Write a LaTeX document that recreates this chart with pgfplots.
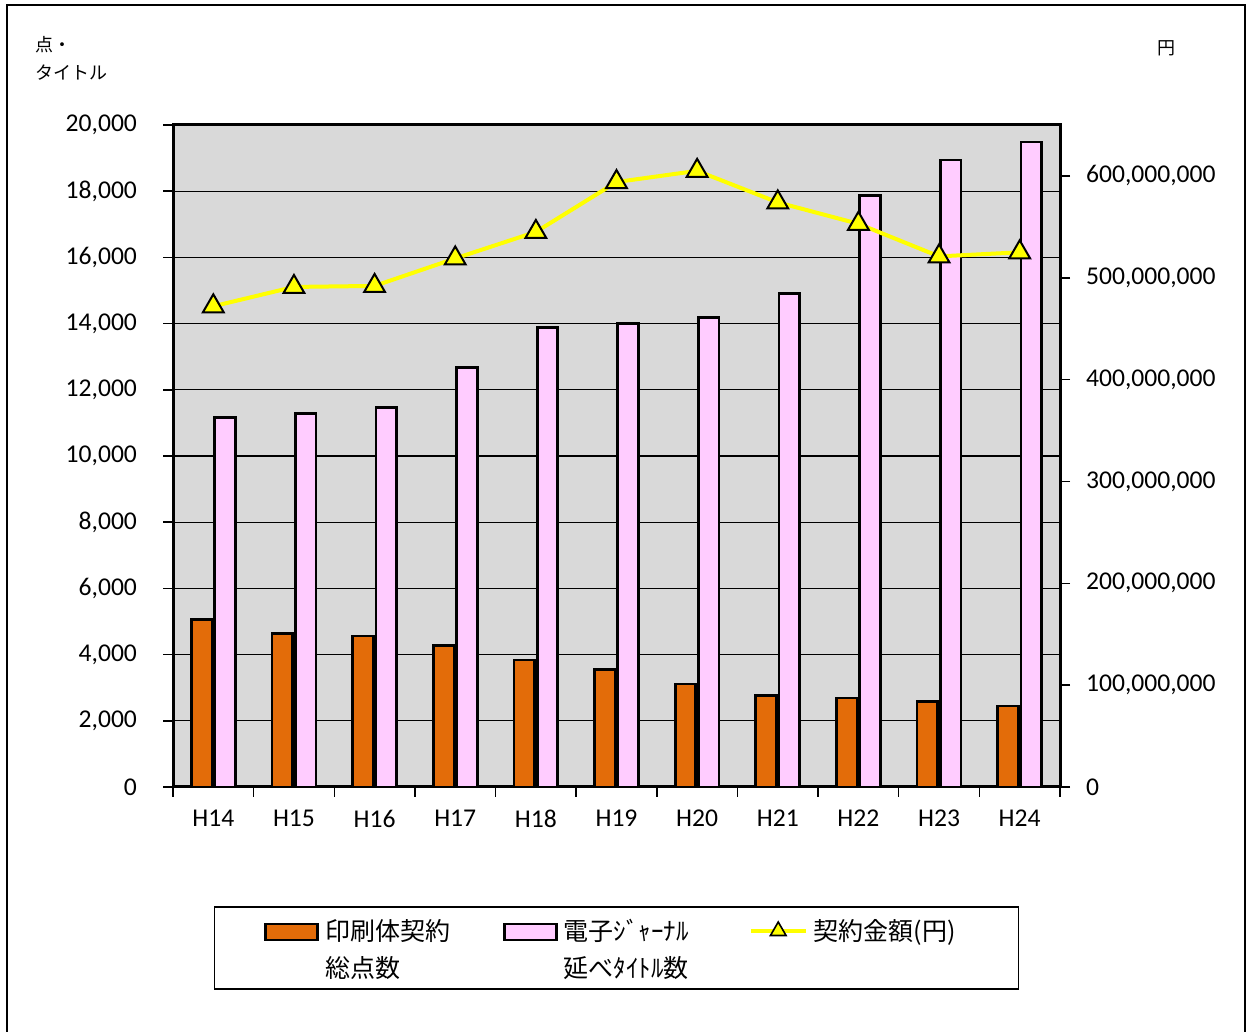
\documentclass[border=0pt]{standalone}
\usepackage{fontspec}
\setmainfont{Carlito}
\newfontfamily\jp{Noto Sans CJK JP}
\usepackage{pgfplots}
\pgfplotsset{compat=1.18}
\usepackage{pgfplotstable}
\definecolor{plotgray}{HTML}{D9D9D9}
\definecolor{barorange}{HTML}{E36C09}
\definecolor{barpink}{HTML}{FFCCFF}
\definecolor{lineyellow}{HTML}{FFFF00}

\pgfplotsset{
  swatchbox/.style={legend image code/.code={\draw[##1] (0pt,0.3pt) rectangle (26pt,8.2pt);}},
  swatchline/.style={legend image code/.code={\draw[##1, mark repeat=2, mark phase=2] plot coordinates {(0pt,4.75pt) (13.75pt,4.75pt) (27.5pt,4.75pt)};}},
}

\pgfplotstableread{
x print ej cost
0 5050 11170 472000000
1 4630 11290 491000000
2 4560 11470 492000000
3 4270 12680 519000000
4 3840 13890 545000000
5 3550 14010 594000000
6 3110 14180 605000000
7 2760 14900 574000000
8 2690 17860 553000000
9 2580 18940 521000000
10 2450 19490 525000000
}\datatable

\begin{document}
\begin{tikzpicture}
\useasboundingbox (0pt,0pt) rectangle (625pt,516pt);
\draw[line width=0.75pt] (3.5pt,-5pt) -- (3.5pt,513.5pt) -- (622.5pt,513.5pt) -- (622.5pt,-5pt);
\node[anchor=west, inner sep=0pt, font=\fontsize{9}{11}\selectfont\jp] at (17.5pt,493.5pt) {点・};
\node[anchor=west, inner sep=0pt, font=\fontsize{9}{11}\selectfont\jp] at (17.5pt,479.5pt) {タイトル};
\node[inner sep=0pt, font=\fontsize{9}{11}\selectfont\jp] at (583pt,492pt) {円};

\begin{axis}[
  at={(86.5pt,122.5pt)}, anchor=south west,
  width=443.5pt, height=331pt, scale only axis,
  xmin=-0.5, xmax=10.5, ymin=0, ymax=20000,
  axis background/.style={fill=plotgray},
  axis line style={line width=1.5pt},
  xtick={-0.5,0.5,...,10.5},
  x tick label as interval,
  xticklabels={H14,H15,H16,H17,H18,H19,H20,H21,H22,H23,H24},
  xtick pos=bottom,
  xticklabel style={yshift=-3pt},
  ytick={0,2000,...,20000},
  ytick pos=left,
  tick align=outside,
  major tick length=5pt,
  tick style={black, line width=0.75pt},
  ymajorgrids,
  grid style={black, line width=0.65pt},
  scaled y ticks=false,
  yticklabel style={xshift=-9.5pt, /pgf/number format/.cd, fixed, precision=0, 1000 sep={,}},
  tick label style={font=\fontsize{12.8}{15}\selectfont},
  /pgf/number format/assume math mode=true,
]
\addplot[ybar, bar width=0.256, bar shift=-0.1445, fill=barorange, draw=black, line width=1.35pt] table[x=x,y=print]{\datatable};
\addplot[ybar, bar width=0.256, bar shift=0.1445, fill=barpink, draw=black, line width=1.35pt] table[x=x,y=ej]{\datatable};
\end{axis}

\begin{axis}[
  at={(86.5pt,122.5pt)}, anchor=south west,
  width=443.5pt, height=331pt, scale only axis,
  xmin=-0.5, xmax=10.5, ymin=0, ymax=650000000,
  hide x axis,
  axis y line*=right,
  axis line style={line width=1.5pt},
  ytick={0,100000000,200000000,300000000,400000000,500000000,600000000},
  tick align=outside,
  major tick length=5pt,
  tick style={black, line width=0.75pt},
  scaled y ticks=false,
  yticklabel style={xshift=4.5pt, /pgf/number format/.cd, fixed, precision=0, 1000 sep={,}},
  tick label style={font=\fontsize{12.8}{15}\selectfont},
  /pgf/number format/assume math mode=true,
  legend columns=3,
  legend cell align=left,
  legend style={at={(0.5,-0.2432)}, anchor=center, draw=black, line width=0.75pt, fill=white,
    inner xsep=25pt, inner ysep=4.75pt, row sep=5.5pt,
    font=\fontsize{12.5}{15}\selectfont\jp,
    nodes={inner sep=0pt, anchor=base west, text height=12pt, text depth=1pt},
    /tikz/every odd column/.append style={column sep=3pt},
    /tikz/every even column/.append style={column sep=26.5pt}},
]
\addlegendimage{swatchbox, fill=barorange, draw=black, line width=1.35pt}
\addlegendentry{印刷体契約}
\addlegendimage{swatchbox, fill=barpink, draw=black, line width=1.35pt}
\addlegendentry{電子ｼﾞｬｰﾅﾙ\hspace*{3.5pt}}
\addlegendimage{swatchline, draw=lineyellow, line width=2pt, mark=triangle*, mark size=4.5pt, mark options={fill=lineyellow, draw=black, line width=0.8pt}}
\addlegendentry{契約金額(円)\hspace*{6.5pt}}
\addlegendimage{empty legend}
\addlegendentry{総点数}
\addlegendimage{empty legend}
\addlegendentry{延べﾀｲﾄﾙ数}
\addlegendimage{empty legend}
\addlegendentry{\mbox{}}
\addplot[forget plot, draw=lineyellow, line width=2pt, mark=triangle*, mark size=6pt, mark options={fill=lineyellow, draw=black, line width=1pt}] table[x=x,y=cost]{\datatable};
\end{axis}
\end{tikzpicture}
\end{document}
